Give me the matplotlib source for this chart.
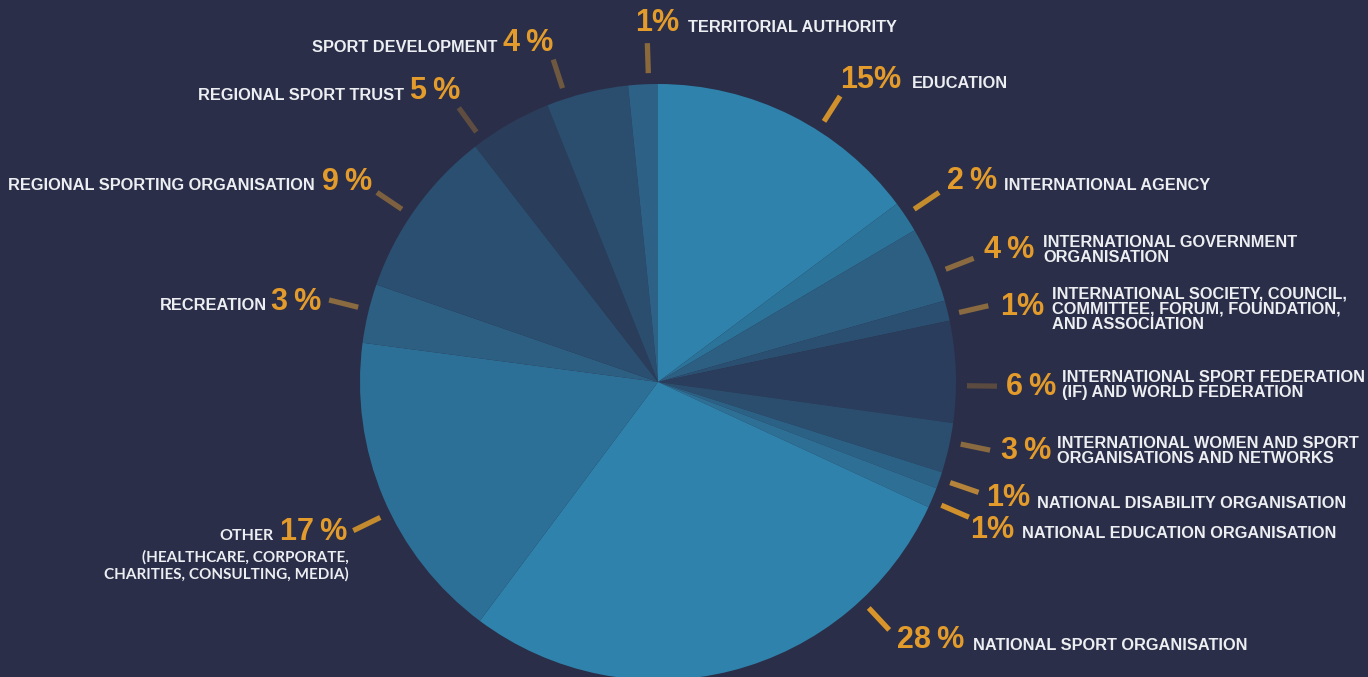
import matplotlib
matplotlib.use("Agg")
import matplotlib.pyplot as plt
import numpy as np

# ---- data ----
categories = [
    "EDUCATION", "INTERNATIONAL AGENCY", "INTERNATIONAL GOVERNMENT\nORGANISATION",
    "INTERNATIONAL SOCIETY, COUNCIL,\nCOMMITTEE, FORUM, FOUNDATION,\nAND ASSOCIATION",
    "INTERNATIONAL SPORT FEDERATION\n(IF) AND WORLD FEDERATION",
    "INTERNATIONAL WOMEN AND SPORT\nORGANISATIONS AND NETWORKS",
    "NATIONAL DISABILITY ORGANISATION", "NATIONAL EDUCATION ORGANISATION",
    "NATIONAL SPORT ORGANISATION", "OTHER", "RECREATION",
    "REGIONAL SPORTING ORGANISATION", "REGIONAL SPORT TRUST",
    "SPORT DEVELOPMENT", "TERRITORIAL AUTHORITY",
]
# slice shares as drawn in the picture
shares = [14.8, 1.7, 4.1, 1.1, 5.5, 2.7, 0.9, 1.1, 28.3, 16.9, 3.2, 9.2, 4.45, 4.45, 1.6]
# percentages as printed
pct_labels = ["15%", "2 %", "4 %", "1%", "6 %", "3 %", "1%", "1%",
              "28 %", "17 %", "3 %", "9 %", "5 %", "4 %", "1%"]
other_note = "(HEALTHCARE, CORPORATE,\nCHARITIES, CONSULTING, MEDIA)"

# ---- styles ----
slice_colors = ["#2f82ab", "#2c7399", "#2c5f82", "#2a4f70", "#2a3d5c", "#2b4d6e",
                "#2b6185", "#2d6f95", "#2f82ab", "#2d7097", "#2d5f82", "#2b4f70",
                "#2a3e5c", "#2b4d6e", "#2d6185"]
tick_colors = ["#d0902c", "#c58c2e", "#8a6a40", "#8a6a40", "#5a4a40", "#8a6a40",
               "#b5843a", "#d0902c", "#d9952a", "#c38a2e", "#8a6a40", "#7d6040",
               "#5e4d40", "#6e5840", "#8a6a3c"]
BG = "#2a2e48"
ORANGE = "#e39b2b"
WHITE = "#eceef2"

# ---- layout (pixel coords, y down) ----
W, H = 1368, 677
cx, cy, R = 658, 382, 298
tick_angles = [32.5, 56, 68.6, 77, 90.7, 101.6, 109, 113.5, 137, -116, -76, -56, -36, -18, -1.8]
tick_r = (309, 339)
pct_pos = [(840, 80, "left"), (947, 181, "left"), (984, 250, "left"), (1000, 307, "left"),
           (1006, 387, "left"), (1001, 451, "left"), (986, 498, "left"), (970, 530, "left"),
           (897, 640, "left"), (347, 532, "right"), (321, 302, "right"), (372, 182, "right"),
           (460, 91, "right"), (553, 43, "right"), (635, 23, "left")]
lab_pos = [(912, 84, "left"), (1004, 186, "left"), (1043, 250, "left"), (1052, 309, "left"),
           (1062, 385, "left"), (1057, 451, "left"), (1037, 503, "left"), (1022, 534, "left"),
           (973, 645, "left"), (273, 536, "right"), (267, 305, "right"), (315, 186, "right"),
           (404, 96, "right"), (497, 47, "right"), (688, 28, "left")]

fig = plt.figure(figsize=(W / 100, H / 100), dpi=100, facecolor=BG)
ax = fig.add_axes([0, 0, 1, 1])
ax.set_facecolor(BG)

ax.pie(shares, colors=slice_colors, startangle=-90, counterclock=True,
       center=(cx, cy), radius=R, frame=True,
       wedgeprops=dict(linewidth=0, edgecolor="none"))
ax.set_xlim(0, W)
ax.set_ylim(H, 0)
ax.set_aspect("equal")
ax.axis("off")

lab_font = dict(family=["Liberation Sans", "DejaVu Sans"], weight="bold")
for i in range(len(shares)):
    a = np.deg2rad(tick_angles[i])
    xs = [cx + r * np.sin(a) for r in tick_r]
    ys = [cy - r * np.cos(a) for r in tick_r]
    ax.plot(xs, ys, color=tick_colors[i], lw=3.8, solid_capstyle="butt")
    px, py, pha = pct_pos[i]
    ax.text(px, py, pct_labels[i].replace(" ", "\u2009"), color=ORANGE, fontsize=22,
            ha=pha, va="center", **lab_font)
    lx, ly, lha = lab_pos[i]
    if categories[i] == "OTHER":
        ax.text(lx, ly, categories[i], color=WHITE, fontsize=11.5, ha=lha, va="center",
                family=["Lato", "DejaVu Sans"], weight="bold")
        ax.text(349, 566, other_note, color=WHITE, fontsize=11, ha="right", va="center",
                family=["Lato", "DejaVu Sans"], weight="bold", linespacing=1.25)
    else:
        ax.text(lx, ly, categories[i], color=WHITE, fontsize=11.8, ha=lha, va="center",
                linespacing=1.03, **lab_font)

fig.savefig("out.png", dpi=100, facecolor=BG)
